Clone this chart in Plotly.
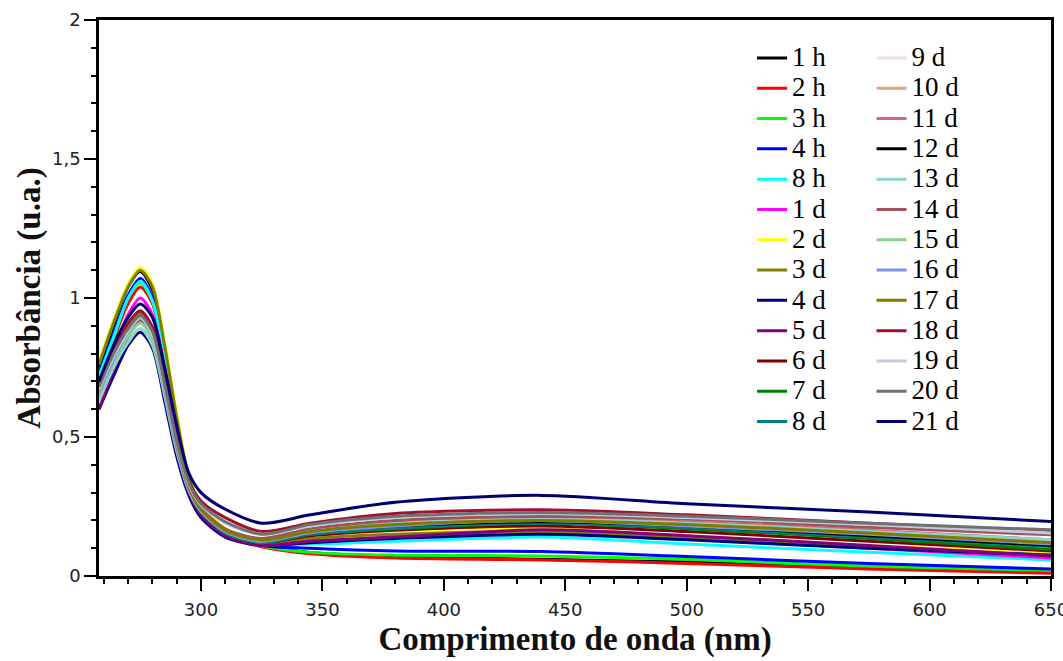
import plotly.graph_objects as go

wavelength = [258, 264, 270, 275, 280, 285, 290, 295, 300, 310, 325, 345, 380, 440, 500, 575, 650]

labels = ["1 h", "2 h", "3 h", "4 h", "8 h", "1 d", "2 d", "3 d", "4 d", "5 d", "6 d", "7 d", "8 d",
          "9 d", "10 d", "11 d", "12 d", "13 d", "14 d", "15 d", "16 d", "17 d", "18 d", "19 d", "20 d", "21 d"]

s_1h = [0.75, 0.90, 1.04, 1.095, 1.03, 0.82, 0.56, 0.35, 0.24, 0.15, 0.11, 0.085, 0.07, 0.06, 0.05, 0.03, 0.015]
s_2h = [0.71, 0.85, 0.98, 1.04, 0.98, 0.78, 0.53, 0.33, 0.23, 0.145, 0.105, 0.08, 0.065, 0.058, 0.045, 0.025, 0.01]
s_3h = [0.72, 0.86, 1.00, 1.055, 0.99, 0.79, 0.54, 0.34, 0.235, 0.148, 0.108, 0.085, 0.075, 0.072, 0.06, 0.035, 0.02]
s_4h = [0.73, 0.87, 1.01, 1.07, 1.00, 0.80, 0.55, 0.34, 0.24, 0.15, 0.11, 0.10, 0.09, 0.088, 0.07, 0.045, 0.025]
s_8h = [0.72, 0.86, 1.00, 1.06, 0.99, 0.79, 0.54, 0.34, 0.24, 0.15, 0.115, 0.115, 0.125, 0.14, 0.115, 0.085, 0.058]
s_1d = [0.68, 0.81, 0.94, 1.00, 0.94, 0.75, 0.51, 0.33, 0.235, 0.15, 0.115, 0.125, 0.14, 0.16, 0.135, 0.10, 0.065]
s_2d = [0.77, 0.92, 1.05, 1.11, 1.05, 0.84, 0.58, 0.36, 0.26, 0.17, 0.13, 0.15, 0.165, 0.17, 0.145, 0.11, 0.08]
s_3d = [0.76, 0.91, 1.04, 1.10, 1.04, 0.83, 0.57, 0.355, 0.25, 0.16, 0.12, 0.135, 0.15, 0.16, 0.14, 0.105, 0.075]
s_4d = [0.60, 0.72, 0.83, 0.877, 0.82, 0.63, 0.43, 0.29, 0.21, 0.14, 0.11, 0.12, 0.135, 0.15, 0.13, 0.10, 0.075]
s_5d = [0.60, 0.74, 0.86, 0.92, 0.86, 0.66, 0.45, 0.30, 0.22, 0.145, 0.11, 0.125, 0.14, 0.166, 0.145, 0.11, 0.072]
s_6d = [0.66, 0.79, 0.90, 0.95, 0.89, 0.69, 0.47, 0.31, 0.23, 0.155, 0.12, 0.145, 0.165, 0.18, 0.16, 0.125, 0.09]
s_7d = [0.65, 0.78, 0.89, 0.94, 0.88, 0.68, 0.465, 0.31, 0.23, 0.155, 0.12, 0.15, 0.17, 0.19, 0.17, 0.135, 0.095]
s_8d = [0.64, 0.77, 0.88, 0.93, 0.87, 0.67, 0.46, 0.31, 0.23, 0.155, 0.12, 0.15, 0.172, 0.19, 0.175, 0.14, 0.106]
s_9d = [0.66, 0.78, 0.87, 0.92, 0.86, 0.67, 0.46, 0.31, 0.235, 0.16, 0.125, 0.16, 0.185, 0.20, 0.185, 0.155, 0.12]
s_10d = [0.66, 0.78, 0.88, 0.93, 0.87, 0.67, 0.46, 0.31, 0.235, 0.16, 0.125, 0.16, 0.185, 0.20, 0.185, 0.155, 0.12]
s_11d = [0.67, 0.79, 0.88, 0.925, 0.87, 0.68, 0.47, 0.32, 0.24, 0.165, 0.13, 0.165, 0.195, 0.21, 0.195, 0.165, 0.13]
s_12d = [0.67, 0.79, 0.89, 0.94, 0.88, 0.68, 0.47, 0.315, 0.235, 0.16, 0.125, 0.155, 0.18, 0.195, 0.18, 0.145, 0.11]
s_13d = [0.63, 0.75, 0.84, 0.89, 0.83, 0.65, 0.45, 0.31, 0.235, 0.165, 0.13, 0.165, 0.19, 0.205, 0.19, 0.16, 0.13]
s_14d = [0.66, 0.78, 0.87, 0.918, 0.86, 0.67, 0.47, 0.32, 0.245, 0.17, 0.135, 0.17, 0.20, 0.214, 0.205, 0.175, 0.148]
s_15d = [0.65, 0.77, 0.86, 0.91, 0.85, 0.66, 0.46, 0.31, 0.235, 0.16, 0.125, 0.16, 0.185, 0.20, 0.185, 0.155, 0.12]
s_16d = [0.66, 0.78, 0.88, 0.93, 0.87, 0.67, 0.46, 0.31, 0.235, 0.16, 0.125, 0.155, 0.18, 0.20, 0.18, 0.15, 0.115]
s_17d = [0.67, 0.80, 0.90, 0.945, 0.885, 0.69, 0.475, 0.32, 0.24, 0.165, 0.13, 0.16, 0.185, 0.20, 0.185, 0.155, 0.12]
s_18d = [0.68, 0.81, 0.91, 0.954, 0.895, 0.70, 0.49, 0.34, 0.27, 0.21, 0.16, 0.19, 0.225, 0.238, 0.22, 0.19, 0.16]
s_19d = [0.67, 0.79, 0.88, 0.93, 0.87, 0.68, 0.48, 0.33, 0.255, 0.19, 0.15, 0.18, 0.21, 0.225, 0.21, 0.185, 0.155]
s_20d = [0.68, 0.80, 0.89, 0.936, 0.88, 0.69, 0.485, 0.335, 0.26, 0.195, 0.15, 0.185, 0.215, 0.228, 0.215, 0.19, 0.166]
s_21d = [0.70, 0.83, 0.93, 0.978, 0.93, 0.75, 0.54, 0.37, 0.30, 0.24, 0.19, 0.22, 0.265, 0.29, 0.26, 0.23, 0.196]

series = [s_1h, s_2h, s_3h, s_4h, s_8h, s_1d, s_2d, s_3d, s_4d, s_5d, s_6d, s_7d, s_8d,
          s_9d, s_10d, s_11d, s_12d, s_13d, s_14d, s_15d, s_16d, s_17d, s_18d, s_19d, s_20d, s_21d]

colors = ["#000000", "#FF0000", "#00FF00", "#0000FF", "#00FFFF", "#FF00FF", "#FFFF00", "#808000",
          "#000080", "#800080", "#800000", "#008000", "#008080",
          "#F2DDE6", "#E8A27A", "#D06A7C", "#000000", "#8FD3CB", "#A0525E", "#86D28E", "#7C96E0",
          "#807A00", "#A01030", "#C4CAE0", "#707070", "#000070"]

fig = go.Figure()
for i, (lab, ys, c) in enumerate(zip(labels, series, colors)):
    fig.add_trace(go.Scatter(
        x=wavelength, y=ys, name="<span style='font-size:27px'>%s</span>" % lab, mode="lines",
        line=dict(color=c, width=3, shape="spline", smoothing=0.8),
        legend="legend" if i < 13 else "legend2",
    ))

legend_font = dict(family="Liberation Serif", size=21, color="#000000")
fig.update_layout(
    width=1063, height=661,
    margin=dict(l=99, r=9, t=20, b=85),
    plot_bgcolor="white", paper_bgcolor="white",
    separators=", ",
    legend=dict(x=0.686, y=0.968, xanchor="left", yanchor="top", font=legend_font,
                bgcolor="rgba(0,0,0,0)", tracegroupgap=0),
    legend2=dict(x=0.8115, y=0.968, xanchor="left", yanchor="top", font=legend_font,
                 bgcolor="rgba(0,0,0,0)", tracegroupgap=0),
    xaxis=dict(
        range=[258, 650.01], tickvals=[300, 350, 400, 450, 500, 550, 600, 650],
        ticklabeloverflow="allow", automargin="height", ticklabelstandoff=4,
        showline=True, linewidth=2.5, linecolor="black", mirror=True,
        ticks="outside", ticklen=12, tickwidth=2, tickcolor="black",
        minor=dict(dtick=10, tick0=300, ticks="outside", ticklen=5, tickwidth=2, tickcolor="black"),
        showgrid=False, zeroline=False,
        tickfont=dict(family="DejaVu Sans", size=18, color="#222222"),
        title=dict(text="<b>Comprimento de onda (nm)</b>",
                   font=dict(family="Liberation Serif", size=33, color="#111111"), standoff=8),
    ),
    yaxis=dict(
        range=[0, 2], tickvals=[0, 0.5, 1, 1.5, 2],
        showline=True, linewidth=2.5, linecolor="black", mirror=True,
        ticks="outside", ticklen=12, tickwidth=2, tickcolor="black",
        minor=dict(dtick=0.1, tick0=0, ticks="outside", ticklen=5, tickwidth=2, tickcolor="black"),
        showgrid=False, zeroline=False,
        tickfont=dict(family="DejaVu Sans", size=18, color="#222222"),
        title=dict(text="<b>Absorbância (u.a.)</b>",
                   font=dict(family="Liberation Serif", size=33, color="#111111"), standoff=2),
    ),
)

fig.write_html("out.html")
